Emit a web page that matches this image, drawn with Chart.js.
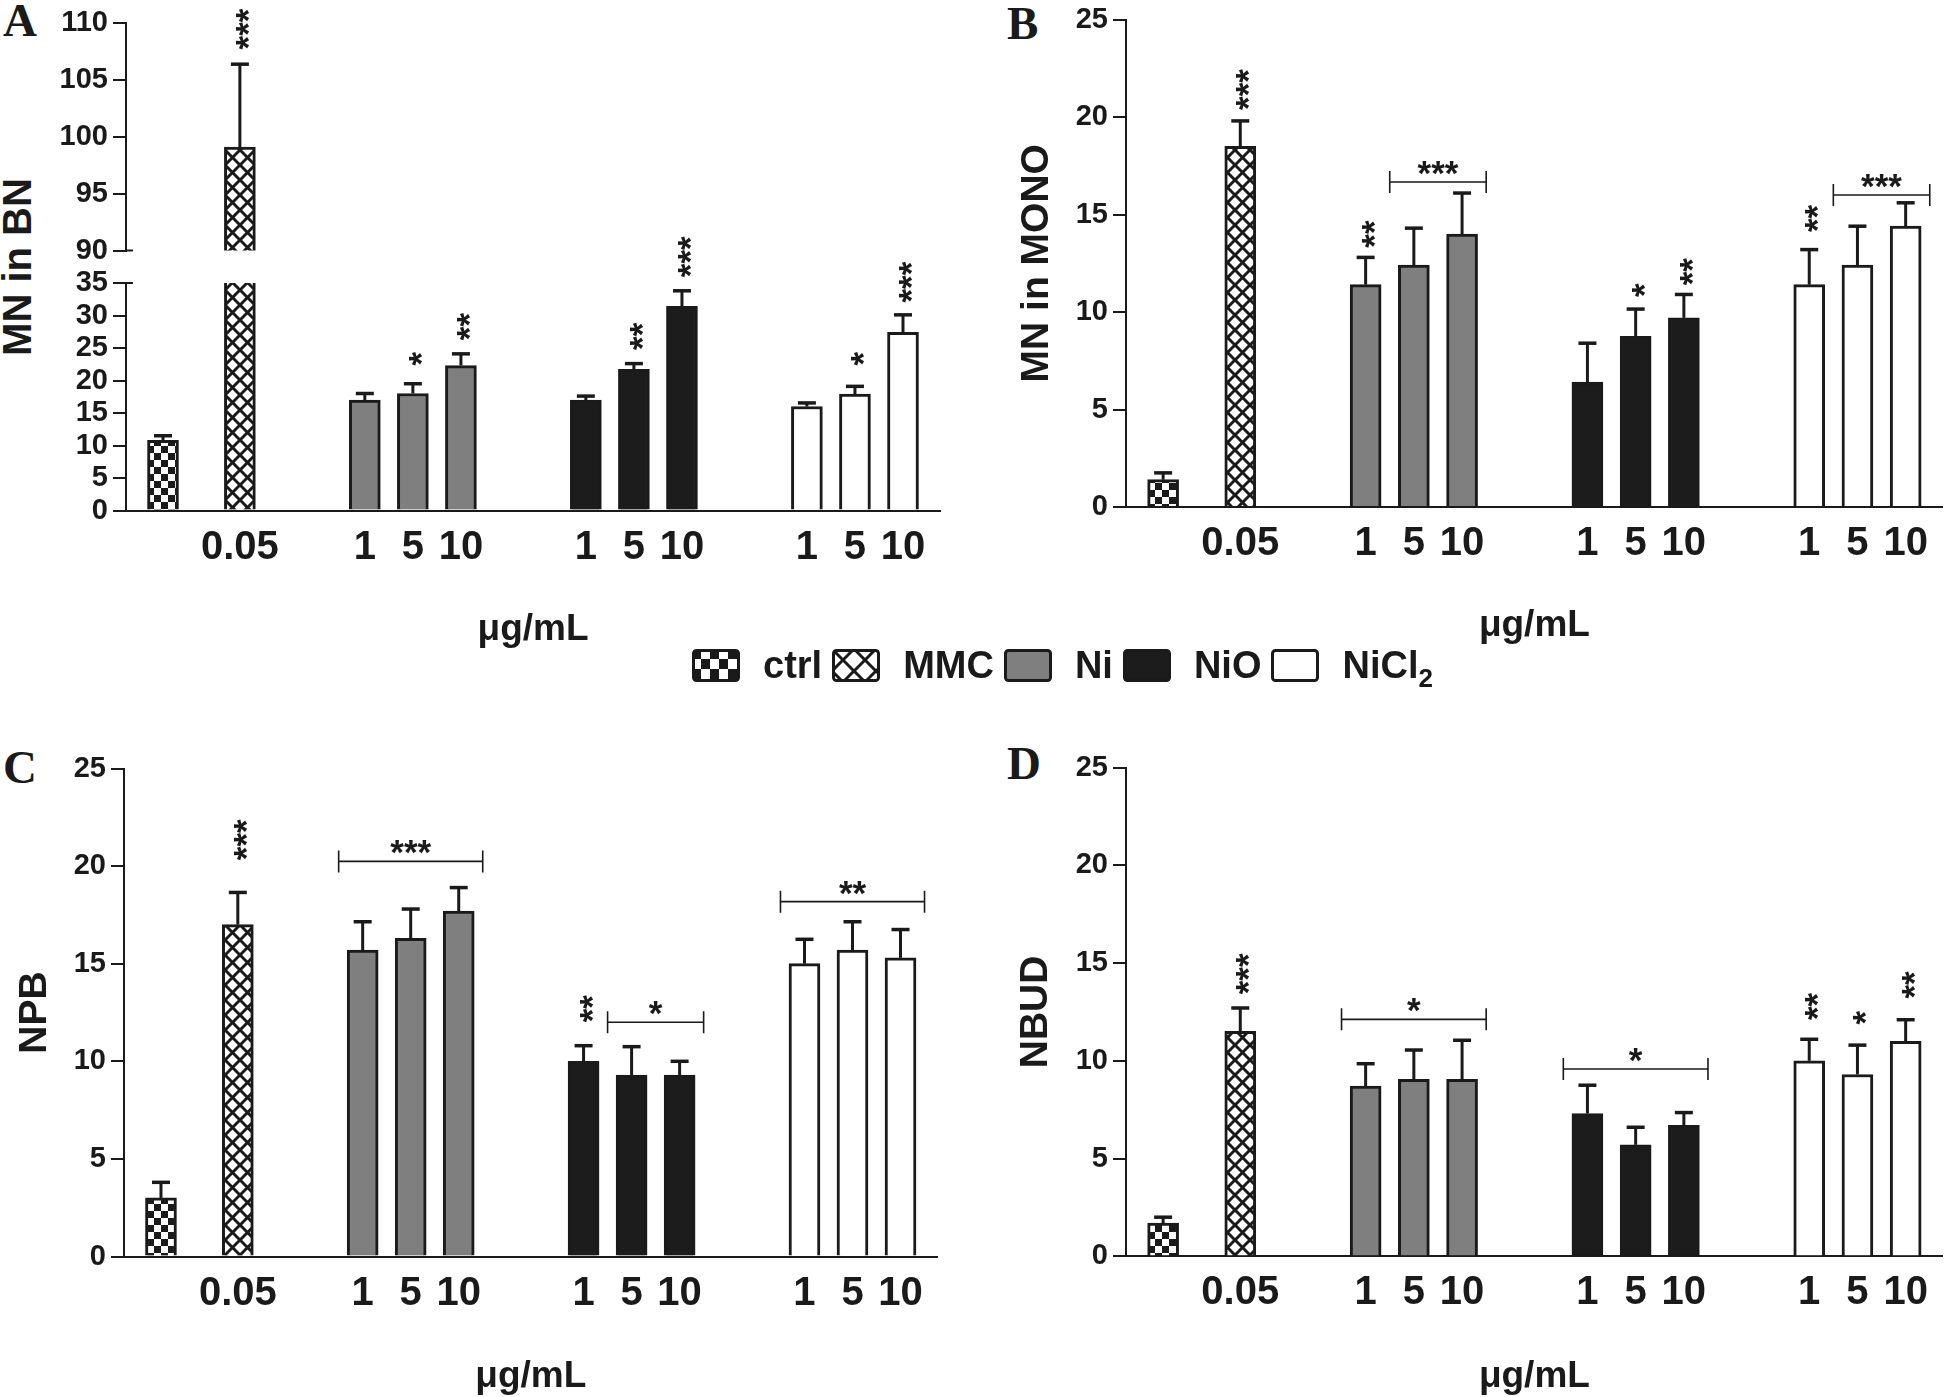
<!DOCTYPE html>
<html><head><meta charset="utf-8">
<script src="https://cdn.jsdelivr.net/npm/chart.js@4.4.1/dist/chart.umd.min.js"></script>
<style>
html,body{margin:0;padding:0;background:#fff;}
body{width:1945px;height:1397px;position:relative;overflow:hidden;font-family:'Liberation Sans',Arial,sans-serif;color:#1a1a1a;}
canvas.c{position:absolute;}
.letter{position:absolute;font:bold 47px 'Liberation Serif','Times New Roman',serif;line-height:1;}
.ytitle{position:absolute;font-weight:bold;font-size:40px;line-height:1;white-space:nowrap;transform:translate(-50%,-50%) rotate(-90deg);}
#legend{position:absolute;left:692px;top:648px;display:flex;align-items:center;height:34px;font-weight:bold;font-size:38px;line-height:1;}
#legend canvas{display:block;margin-right:23px;}
#legend span{margin-right:10px;white-space:nowrap;}
#legend sub{font-size:26px;vertical-align:-9px;line-height:0;}
</style></head><body>
<div class="letter" style="left:3px;top:-3px">A</div>
<div class="letter" style="left:1007px;top:0px">B</div>
<div class="letter" style="left:3px;top:744px">C</div>
<div class="letter" style="left:1007px;top:740px">D</div>
<div class="ytitle" style="left:17px;top:267px">MN in BN</div>
<div id="legend">
  <canvas id="lg0" width="48" height="33"></canvas><span>ctrl</span>
  <canvas id="lg1" width="48" height="33"></canvas><span>MMC</span>
  <canvas id="lg2" width="48" height="33"></canvas><span>Ni</span>
  <canvas id="lg3" width="48" height="33"></canvas><span>NiO</span>
  <canvas id="lg4" width="48" height="33"></canvas><span>NiCl<sub>2</sub></span>
</div>
<script>
// ---------------- data ----------------
const groups = ['ctrl', 'MMC', 'Ni', 'NiO', 'NiCl2'];
const groupSizes = [1, 1, 3, 3, 3];
const doseLabels = ['', '0.05', '1', '5', '10', '1', '5', '10', '1', '5', '10'];

const mnBN      = [10.8, 99.1, 17.0, 18.0, 22.3, 17.0, 21.7, 31.4, 16.0, 17.9, 27.4];
const mnBNErr   = [0.7, 7.3, 1.0, 1.5, 1.8, 0.6, 0.9, 2.4, 0.55, 1.2, 2.7];
const mnMONO    = [1.4, 18.5, 11.4, 12.4, 14.0, 6.4, 8.75, 9.7, 11.4, 12.4, 14.4];
const mnMONOErr = [0.35, 1.3, 1.4, 1.9, 2.1, 2.0, 1.4, 1.2, 1.8, 2.0, 1.2];
const npb       = [3.0, 17.0, 15.7, 16.3, 17.7, 10.0, 9.3, 9.3, 15.0, 15.7, 15.3];
const npbErr    = [0.8, 1.65, 1.45, 1.5, 1.2, 0.8, 1.45, 0.7, 1.25, 1.45, 1.45];
const nbud      = [1.7, 11.5, 8.7, 9.05, 9.05, 7.3, 5.7, 6.7, 10.0, 9.3, 11.0];
const nbudErr   = [0.3, 1.2, 1.15, 1.5, 2.0, 1.45, 0.9, 0.65, 1.1, 1.5, 1.1];

// significance marks: i = bar index, y = value at the foot of the mark
const starsA_upper = [{i: 1, t: '***', y: 107.7}];
const starsA = [{i: 3, t: '*', y: 22.3}, {i: 4, t: '**', y: 26.2}, {i: 6, t: '**', y: 24.7},
                {i: 7, t: '***', y: 35.9}, {i: 9, t: '*', y: 22.3}, {i: 10, t: '***', y: 32.0}];
const starsB = [{i: 1, t: '***', y: 20.36}, {i: 2, t: '**', y: 13.3}, {i: 6, t: '*', y: 10.77},
                {i: 7, t: '**', y: 11.37}, {i: 8, t: '**', y: 14.1}];
const bracketsB = [{from: 3, to: 4, y: 16.67, t: '***'}, {from: 9, to: 10, y: 16.0, t: '***'}];
const starsC = [{i: 1, t: '***', y: 20.3}, {i: 5, t: '**', y: 12.0}];
const bracketsC = [{from: 2, to: 4, y: 20.24, t: '***'}, {from: 6, to: 7, y: 12.0, t: '*'},
                   {from: 8, to: 10, y: 18.18, t: '**'}];
const starsD = [{i: 1, t: '***', y: 13.4}, {i: 8, t: '**', y: 12.08}, {i: 9, t: '*', y: 11.86},
                {i: 10, t: '**', y: 13.18}];
const bracketsD = [{from: 2, to: 4, y: 12.12, t: '*'}, {from: 5, to: 7, y: 9.58, t: '*'}];

// ---------------- styling ----------------
const INK = '#1a1a1a';
const FONT = "'Liberation Sans', Arial, sans-serif";
Chart.defaults.font.family = FONT;
Chart.defaults.color = INK;

// bar slot layout (in slot units)
const LEAD = 0.77, GAPS = [0.6, 1.6, 1.6, 1.6];
function slotPositions() {
  const pos = []; let x = LEAD;
  groupSizes.forEach((n, g) => {
    for (let k = 0; k < n; k++) { pos.push(x); x += 1; }
    if (g < groupSizes.length - 1) x += GAPS[g];
  });
  return pos;
}
const xPos = slotPositions();
const xMax = xPos[xPos.length - 1] + LEAD;

function checkerTile(cw, ch) {
  const c = document.createElement('canvas'); c.width = cw * 2; c.height = ch * 2;
  const g = c.getContext('2d');
  g.fillStyle = '#fff'; g.fillRect(0, 0, cw * 2, ch * 2);
  g.fillStyle = INK; g.fillRect(0, 0, cw, ch); g.fillRect(cw, ch, cw, ch);
  return c;
}
function crossTile(w, h, lw) {
  const c = document.createElement('canvas'); c.width = w; c.height = h;
  const g = c.getContext('2d');
  g.fillStyle = '#fff'; g.fillRect(0, 0, w, h);
  g.strokeStyle = INK; g.lineWidth = lw;
  for (const dx of [-w, 0, w]) {
    g.beginPath(); g.moveTo(dx, 0); g.lineTo(dx + w, h); g.stroke();
    g.beginPath(); g.moveTo(dx + w, 0); g.lineTo(dx, h); g.stroke();
  }
  return c;
}
const tmpCtx = document.createElement('canvas').getContext('2d');
const checkerPat = tmpCtx.createPattern(checkerTile(7, 7), 'repeat');
const crossPat = tmpCtx.createPattern(crossTile(15, 15, 3), 'repeat');
const groupFill = {ctrl: checkerPat, MMC: crossPat, Ni: '#7f7f7f', NiO: '#1c1c1c', NiCl2: '#ffffff'};
const barFills = [];
groups.forEach((g, k) => { for (let j = 0; j < groupSizes[k]; j++) barFills.push(groupFill[g]); });

// legend swatches
(function () {
  const lgPats = [tmpCtx.createPattern(checkerTile(9, 10), 'repeat'), tmpCtx.createPattern(crossTile(22, 22, 3), 'repeat'),
                  '#7f7f7f', '#1c1c1c', '#ffffff'];
  lgPats.forEach((p, k) => {
    const cv = document.getElementById('lg' + k); const g = cv.getContext('2d');
    g.fillStyle = p; g.fillRect(1.5, 1.5, 45, 30);
    g.strokeStyle = INK; g.lineWidth = 3;
    g.beginPath(); g.roundRect(1.5, 1.5, 45, 30, 3); g.stroke();
  });
})();

// error bars, significance marks, axis-break ticks
const sigPlugin = {
  id: 'sig',
  afterDatasetsDraw(chart, args, opts) {
    const ctx = chart.ctx, ys = chart.scales.y, area = chart.chartArea;
    const meta = chart.getDatasetMeta(0);
    const vals = chart.data.datasets[0].data;
    const errs = opts.errors || [];
    ctx.save();
    ctx.strokeStyle = INK; ctx.fillStyle = INK;
    meta.data.forEach((bar, i) => {
      const v = vals[i].y, e = errs[i];
      if (e == null || v < ys.min || v > ys.max) return;
      const top = ys.getPixelForValue(v + e);
      ctx.lineWidth = 3;
      ctx.beginPath(); ctx.moveTo(bar.x, bar.y); ctx.lineTo(bar.x, top); ctx.stroke();
      ctx.lineWidth = 3.5;
      ctx.beginPath(); ctx.moveTo(bar.x - 9, top); ctx.lineTo(bar.x + 9, top); ctx.stroke();
    });
    const fs = 35;
    ctx.font = 'bold ' + fs + 'px ' + FONT;
    (opts.stars || []).forEach(s => {
      const x = meta.data[s.i].x, py = ys.getPixelForValue(s.y);
      ctx.save(); ctx.translate(x, py); ctx.rotate(-Math.PI / 2);
      ctx.textAlign = 'left'; ctx.textBaseline = 'alphabetic';
      ctx.fillText(s.t, 0, 0.57 * fs);
      ctx.restore();
    });
    (opts.brackets || []).forEach(b => {
      const half = (meta.data[1].x - meta.data[0].x) / 1.6 * 0.5;
      const x1 = meta.data[b.from].x - half, x2 = meta.data[b.to].x + half;
      const py = ys.getPixelForValue(b.y);
      ctx.lineWidth = 1.6;
      ctx.beginPath(); ctx.moveTo(x1, py); ctx.lineTo(x2, py);
      ctx.moveTo(x1, py - 11); ctx.lineTo(x1, py + 11);
      ctx.moveTo(x2, py - 11); ctx.lineTo(x2, py + 11); ctx.stroke();
      ctx.textAlign = 'center'; ctx.textBaseline = 'alphabetic';
      ctx.fillText(b.t, (x1 + x2) / 2, py + 3);
    });
    if (opts.breakTick != null) {
      const py = ys.getPixelForValue(opts.breakTick);
      ctx.lineWidth = 2;
      ctx.beginPath(); ctx.moveTo(area.left, py); ctx.lineTo(area.left + 7, py); ctx.stroke();
    }
    ctx.restore();
  }
};
Chart.register(sigPlugin);

function panel(p) {
  const cv = document.createElement('canvas');
  cv.className = 'c'; cv.width = p.w; cv.height = p.h;
  cv.style.left = p.left + 'px'; cv.style.top = p.top + 'px';
  document.body.insertBefore(cv, document.getElementById('legend'));
  return new Chart(cv.getContext('2d'), {
    type: 'bar',
    data: {
      datasets: [{
        data: xPos.map((x, i) => ({x: x, y: p.values[i]})),
        backgroundColor: barFills,
        borderColor: INK, borderWidth: 3, borderSkipped: 'start',
        barThickness: 31, clip: 0
      }]
    },
    options: {
      responsive: false, animation: false, devicePixelRatio: 1, events: [],
      layout: {padding: p.padding},
      plugins: {
        legend: {display: false}, tooltip: {enabled: false},
        sig: {errors: p.errors, stars: p.stars, brackets: p.brackets, breakTick: p.breakTick}
      },
      scales: {
        x: {
          type: 'linear', min: 0, max: xMax, offset: false, display: p.showX,
          afterBuildTicks: axis => { axis.ticks = xPos.map(v => ({value: v})); },
          afterFit: axis => { axis.height = p.xHeight; },
          ticks: {autoSkip: false, maxRotation: 0, minRotation: 0, padding: 17, color: INK,
                  font: {size: 40, weight: 'bold', lineHeight: 1},
                  callback: (v, i) => doseLabels[i]},
          grid: {display: false, drawTicks: false, offset: false},
          border: {display: true, color: INK, width: 2},
          title: {display: true, text: 'μg/mL', color: INK,
                  font: {size: 37, weight: 'bold', lineHeight: 1},
                  padding: {top: 0, bottom: p.xTitlePad}}
        },
        y: {
          min: p.yMin, max: p.yMax,
          afterFit: axis => { axis.width = p.yWidth; },
          ticks: {stepSize: 5, padding: 5, color: INK, font: {size: 29, weight: 'bold', lineHeight: 1}},
          grid: {drawOnChartArea: false, drawTicks: true, tickLength: 13, color: INK, lineWidth: 2},
          border: {display: true, color: INK, width: 2},
          title: {display: !!p.yTitle, text: p.yTitle || '', color: INK,
                  font: {size: 39, weight: 'bold', lineHeight: 1},
                  padding: {top: p.yTitlePad || 0, bottom: 0}}
        }
      }
    }
  });
}

// Panel A (broken axis: upper 90-110, lower 0-35)
panel({left: 0, top: 0, w: 960, h: 270, padding: {left: 0, right: 20, top: 23.3, bottom: 18},
       values: mnBN, errors: mnBNErr, yMin: 90, yMax: 110, yWidth: 126, xHeight: 0, showX: false,
       stars: starsA_upper, breakTick: 90});
panel({left: 0, top: 215, w: 960, h: 440, padding: {left: 0, right: 20, top: 68, bottom: 0},
       values: mnBN, errors: mnBNErr, yMin: 0, yMax: 35, yWidth: 126, xHeight: 144.5, xTitlePad: 6.5,
       showX: true, stars: starsA, breakTick: 35});
// Panel B
panel({left: 980, top: 0, w: 965, h: 655, padding: {left: 0, right: 2, top: 18, bottom: 0},
       values: mnMONO, errors: mnMONOErr, yMin: 0, yMax: 25, yWidth: 146, xHeight: 148, xTitlePad: 10.5,
       showX: true, yTitle: 'MN in MONO', yTitlePad: 37.5, stars: starsB, brackets: bracketsB});
// Panel C
panel({left: 0, top: 700, w: 960, h: 697, padding: {left: 0, right: 22.5, top: 68.5, bottom: 0},
       values: npb, errors: npbErr, yMin: 0, yMax: 25, yWidth: 124, xHeight: 140.5, xTitlePad: 1.5,
       showX: true, yTitle: 'NPB', yTitlePad: 15.5, stars: starsC, brackets: bracketsC});
// Panel D
panel({left: 980, top: 700, w: 965, h: 697, padding: {left: 0, right: 2, top: 67.5, bottom: 0},
       values: nbud, errors: nbudErr, yMin: 0, yMax: 25, yWidth: 146, xHeight: 140.7, xTitlePad: 1.5,
       showX: true, yTitle: 'NBUD', yTitlePad: 36.5, stars: starsD, brackets: bracketsD});
</script>
</body></html>
